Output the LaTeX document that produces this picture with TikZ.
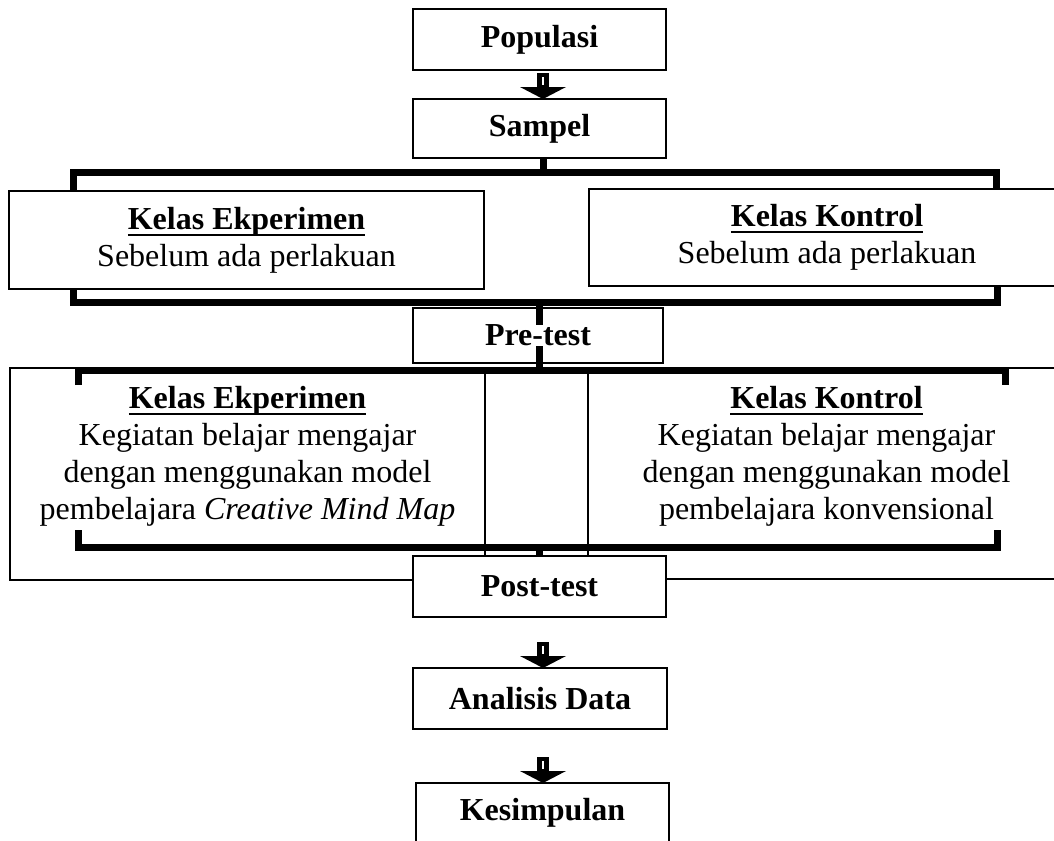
\documentclass[tikz,border=0pt]{standalone}
\usepackage{fontspec}
\setmainfont{Liberation Serif}
\usetikzlibrary{calc}
\newcommand{\hd}[1]{\leavevmode\setbox0=\hbox{\bfseries #1}\rlap{\rule[-5pt]{\wd0}{1.5pt}}\box0}
\newcommand{\blockarr}[1]{%
  \coordinate (tip) at (ax |- #1.north);
  \draw[line width=3.4pt, fill=white] ($(tip)+(-3.75,-12)$) rectangle ($(tip)+(3.75,-23.8)$);
  \fill ($(tip)+(-23,-12)$) -- ($(tip)+(23,-12)$) -- (tip) -- cycle;}
\begin{document}
\begin{tikzpicture}[x=0.75pt,y=-0.75pt,
  every node/.style={font=\fontsize{24}{27.75}\selectfont, inner sep=0pt, outer sep=0pt},
  box/.style 2 args={draw, line width=1.2pt, fill=white, align=center,
     minimum width={#1*0.75pt}, minimum height={#2*0.75pt}},
  bigbox/.style 2 args={draw, line width=0.9pt,
     minimum width={#1*0.75pt}, minimum height={#2*0.75pt}},
  bar/.style={line width=5.25pt, line join=miter, line cap=butt},
  stem/.style={line width=5.25pt, line cap=butt}]
\useasboundingbox (0,0) rectangle (1054,840);
\coordinate (ax) at (543,0);
% big boxes of the treatment stage
\node[bigbox={475}{212}] (ke2box) at (247.5,474) {};
\node[bigbox={477}{211}] (kk2box) at (826.5,473.5) {};
% top boxes
\node[box={253}{61}] (pop) at (539.5,39.5) {\bfseries Populasi};
\node[box={253}{59}] (sam) at (539.5,128.5) {\bfseries Sampel};
\node[box={475}{98}] (ke1) at (246.5,240) {\hd{Kelas Ekperimen}\\Sebelum ada perlakuan};
\node[box={476}{97}] (kk1) at (827,237.5) {\hd{Kelas Kontrol}\\Sebelum ada perlakuan};
% bracket coordinates
\coordinate (b1l) at (73,172);  \coordinate (b1r) at (996,172);
\coordinate (b2l) at (73,302);  \coordinate (b2r) at (997,302);
\coordinate (b3l) at (78,370);  \coordinate (b3r) at (1005,370);
\coordinate (b3le) at (78,385); \coordinate (b3re) at (1005,385);
\coordinate (b4l) at (78,547);  \coordinate (b4r) at (997,547);
\coordinate (b4le) at (78,530); \coordinate (b4re) at (997,530);
\coordinate (s1) at (543,0); \coordinate (s2) at (539,0);
% brackets
\draw[bar] (b1l |- ke1.north) -- (b1l) -- (b1r) -- (b1r |- kk1.north);
\draw[stem] (s1 |- sam.south) -- (s1 |- b1l);
\draw[bar] (b2l |- ke1.south) -- (b2l) -- (b2r) -- (b2r |- kk1.south);
\draw[bar] (b3le) -- (b3l) -- (b3r) -- (b3re);
\draw[bar] (b4le) -- (b4l) -- (b4r) -- (b4re);
% pre-test
\node[box={250}{55}] (prebox) at (538,335.5) {};
\draw[stem] (s2 |- b2l) -- (s2 |- b3l);
\node[fill=white, font=\fontsize{24}{27.75}\selectfont\bfseries] (pre) at (prebox.center) {Pre-test};
% treatment texts
\node[align=center] (ke2) at (247.5,456) {\hd{Kelas Ekperimen}\\Kegiatan belajar mengajar\\dengan menggunakan model\\pembelajara \textit{Creative Mind Map}};
\node[align=center] (kk2) at (826.5,456) {\hd{Kelas Kontrol}\\Kegiatan belajar mengajar\\dengan menggunakan model\\pembelajara konvensional};
% post-test
\node[box={253}{61}] (post) at (539.5,586.5) {\bfseries Post-test};
\draw[stem] (s2 |- b4l) -- (s2 |- post.north);
% lower boxes
\node[box={254}{61}] (ana) at (540,698.5) {\bfseries Analisis Data};
\node[box={253}{60}] (kes) at (542.5,813) {\bfseries Kesimpulan};
% block arrows
\blockarr{sam}
\blockarr{ana}
\blockarr{kes}
\end{tikzpicture}
\end{document}
